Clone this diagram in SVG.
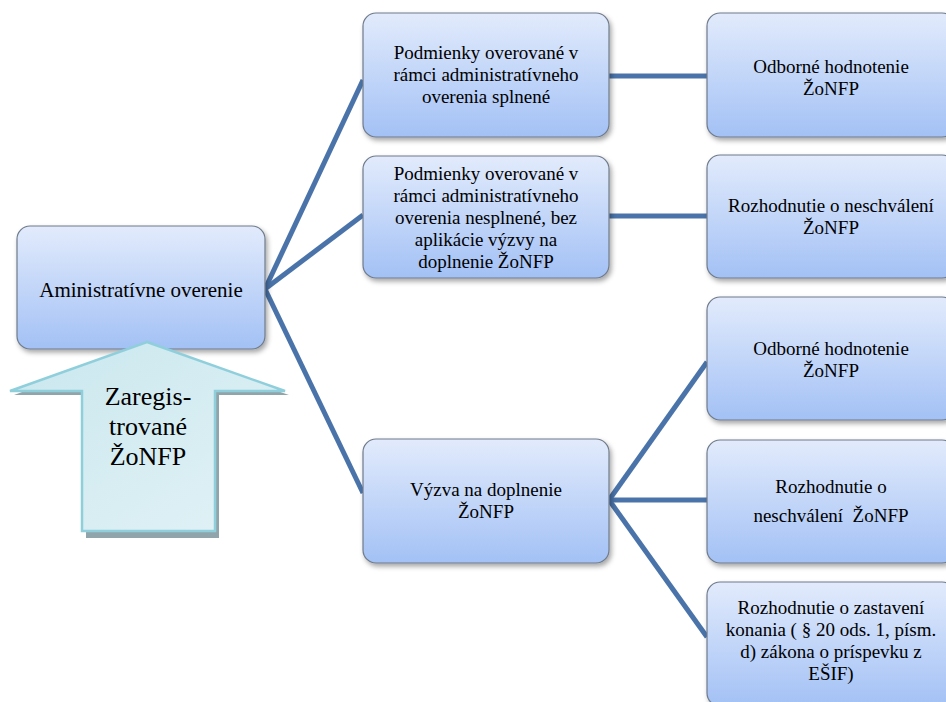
<svg xmlns="http://www.w3.org/2000/svg" width="946" height="702" viewBox="0 0 946 702">
<defs>
<linearGradient id="bg" x1="0" y1="0" x2="0" y2="1">
<stop offset="0" stop-color="#e2ebfc"/>
<stop offset="1" stop-color="#a3c1f5"/>
</linearGradient>
<linearGradient id="ag" x1="0" y1="0" x2="1" y2="1">
<stop offset="0" stop-color="#c9e7ee"/>
<stop offset="1" stop-color="#e2f2f6"/>
</linearGradient>
<filter id="sh" x="-10%" y="-10%" width="130%" height="140%">
<feDropShadow dx="2" dy="3" stdDeviation="2.5" flood-color="#000" flood-opacity="0.35"/>
</filter>
<style>
.box{fill:url(#bg);stroke:#6f7b8b;stroke-width:1.2;filter:url(#sh)}
.t{font-size:19px;fill:#000;text-anchor:middle}
.r{font-size:21px}
.a{font-size:26px}
.c{stroke:#4a74a9;stroke-width:5;fill:none;stroke-linecap:butt}
</style>
</defs>
<g id="connectors">
<line class="c" x1="265" y1="289" x2="363" y2="80"/>
<line class="c" x1="265" y1="289" x2="363" y2="215"/>
<line class="c" x1="265" y1="289" x2="363" y2="493"/>
<line class="c" x1="609" y1="76" x2="707" y2="76"/>
<line class="c" x1="609" y1="216" x2="707" y2="216"/>
<line class="c" x1="609" y1="500" x2="707" y2="362"/>
<line class="c" x1="609" y1="500" x2="707" y2="500"/>
<line class="c" x1="609" y1="500" x2="707" y2="637"/>
</g>
<g font-family="Liberation Serif, DejaVu Serif, serif">
<g id="root">
<rect class="box" x="17" y="226" width="248" height="123" rx="13"/>
<text class="t r" x="141" y="297">Aministratívne overenie</text>
</g>
<g id="arrow">
<polygon points="147,346 289,395 219,395 219,538 86,538 86,395 14,395" fill="#90a4ab"/>
<polygon points="147,342 285,391 215,391 215,531 82,531 82,391 10,391" fill="url(#ag)" stroke="#8fcfdc" stroke-width="2.5" stroke-linejoin="miter"/>
<text class="t a" x="148" y="405">Zaregis-</text>
<text class="t a" x="148" y="435">trované</text>
<text class="t a" x="148" y="465">ŽoNFP</text>
</g>
<g id="n1">
<rect class="box" x="363" y="13" width="246" height="124" rx="13"/>
<text class="t" x="486" y="59">Podmienky overované v</text>
<text class="t" x="486" y="81">rámci administratívneho</text>
<text class="t" x="486" y="103">overenia splnené</text>
</g>
<g id="n2">
<rect class="box" x="363" y="156" width="246" height="122" rx="13"/>
<text class="t" x="486" y="180">Podmienky overované v</text>
<text class="t" x="486" y="202">rámci administratívneho</text>
<text class="t" x="486" y="224">overenia nesplnené, bez</text>
<text class="t" x="486" y="246">aplikácie výzvy na</text>
<text class="t" x="486" y="268">doplnenie ŽoNFP</text>
</g>
<g id="n3">
<rect class="box" x="363" y="439" width="246" height="124" rx="13"/>
<text class="t" x="486" y="496">Výzva na doplnenie</text>
<text class="t" x="486" y="518">ŽoNFP</text>
</g>
<g id="m1">
<rect class="box" x="707" y="13" width="248" height="124" rx="13"/>
<text class="t" x="831" y="73">Odborné hodnotenie</text>
<text class="t" x="831" y="95">ŽoNFP</text>
</g>
<g id="m2">
<rect class="box" x="707" y="155" width="248" height="123" rx="13"/>
<text class="t" x="831" y="212">Rozhodnutie o neschválení</text>
<text class="t" x="831" y="234">ŽoNFP</text>
</g>
<g id="m3">
<rect class="box" x="707" y="297" width="248" height="123" rx="13"/>
<text class="t" x="831" y="355">Odborné hodnotenie</text>
<text class="t" x="831" y="377">ŽoNFP</text>
</g>
<g id="m4">
<rect class="box" x="707" y="440" width="248" height="123" rx="13"/>
<text class="t" x="831" y="493">Rozhodnutie o</text>
<text class="t" x="831" y="522">neschválení&#160; ŽoNFP</text>
</g>
<g id="m5">
<rect class="box" x="707" y="582" width="248" height="124" rx="13"/>
<text class="t" x="831" y="614">Rozhodnutie o zastavení</text>
<text class="t" x="831" y="636">konania ( § 20 ods. 1, písm.</text>
<text class="t" x="831" y="658">d) zákona o príspevku z</text>
<text class="t" x="831" y="680">EŠIF)</text>
</g>
</g>
</svg>
